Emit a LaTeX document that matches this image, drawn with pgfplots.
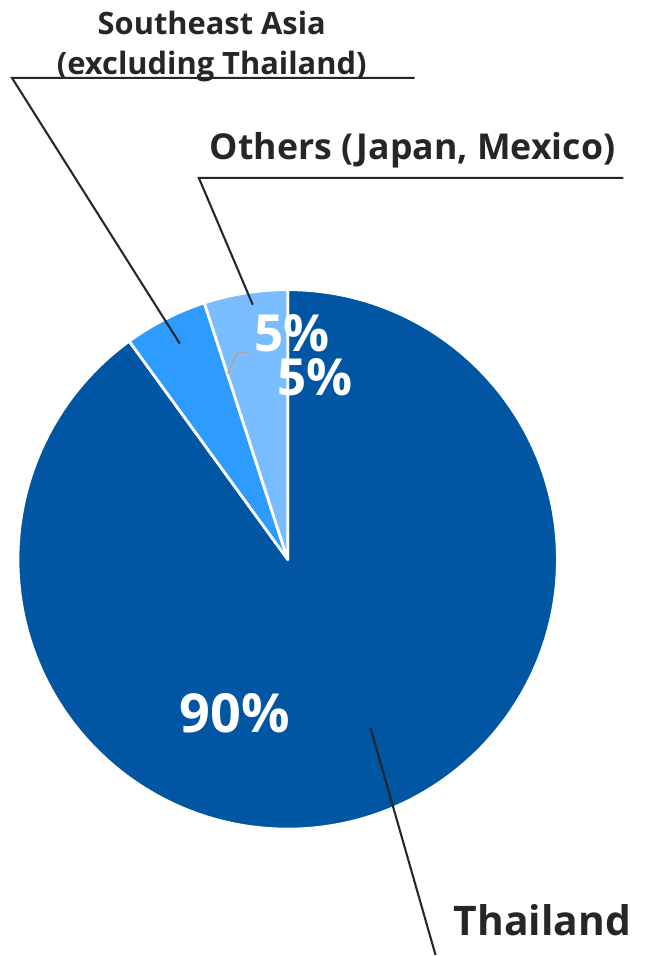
\documentclass[border=0pt]{standalone}
\usepackage{pgfplots}
\pgfplotsset{compat=1.18}
\usepackage{pgfplotstable}
\usepackage{fontspec}
\setmainfont{Open Sans}
\definecolor{cThai}{HTML}{0056A3}
\definecolor{cSEA}{HTML}{2E9BFF}
\definecolor{cOth}{HTML}{79BCFF}
\definecolor{txt}{HTML}{262626}
\definecolor{lgray}{HTML}{A6A6A6}
\pgfplotstableread{
region share
Thailand 90
SEAsia 5
Others 5
}\sharetable
\pgfplotstablegetelem{0}{share}\of\sharetable\let\sA\pgfplotsretval
\pgfplotstablegetelem{1}{share}\of\sharetable\let\sB\pgfplotsretval
\pgfplotstablegetelem{2}{share}\of\sharetable\let\sC\pgfplotsretval
\pgfmathsetmacro\aA{90-3.6*\sA}
\pgfmathsetmacro\aB{\aA-3.6*\sB}
\pgfmathsetmacro\aC{\aB-3.6*\sC}
\begin{document}
\begin{tikzpicture}
\begin{axis}[
  width=6.51in, height=9.56in, scale only axis,
  xmin=0, xmax=651, ymin=0, ymax=956,
  hide axis, clip=false]
\path (axis cs:0,0) rectangle (axis cs:651,956);
% wedges
\filldraw[fill=cThai, draw=white, line width=2pt, line join=round]
  (axis cs:288,396) -- ++(90:2.7in) arc[start angle=90, end angle=\aA, radius=2.7in] -- cycle;
\filldraw[fill=cSEA, draw=white, line width=2pt, line join=round]
  (axis cs:288,396) -- ++(\aA:2.7in) arc[start angle=\aA, end angle=\aB, radius=2.7in] -- cycle;
\filldraw[fill=cOth, draw=white, line width=2pt, line join=round]
  (axis cs:288,396) -- ++(\aB:2.7in) arc[start angle=\aB, end angle=\aC, radius=2.7in] -- cycle;
% leader lines
\draw[txt, line width=1.5pt] (axis cs:415,878) -- (axis cs:12,878) -- (axis cs:180,612);
\draw[txt, line width=1.5pt] (axis cs:624,778) -- (axis cs:199,778) -- (axis cs:253,651);
\draw[txt, line width=1.5pt] (axis cs:371,227) -- (axis cs:436,0);
\draw[lgray, line width=1.2pt] (axis cs:228,582) -- (axis cs:238,603) -- (axis cs:249,603);
% value labels
\node[white, font=\fontsize{39}{39}\selectfont\bfseries, anchor=base] at (axis cs:235,223) {90\%};
\node[white, font=\fontsize{37}{37}\selectfont\bfseries, anchor=base] at (axis cs:292,604) {5\%};
\node[white, font=\fontsize{37}{37}\selectfont\bfseries, anchor=base] at (axis cs:315,560) {5\%};
% category labels
\node[txt, font=\fontsize{22.3}{22.3}\selectfont\bfseries, anchor=base] at (axis cs:212,921) {Southeast Asia};
\node[txt, font=\fontsize{22.3}{22.3}\selectfont\bfseries, anchor=base] at (axis cs:212,881) {(excluding Thailand)};
\node[txt, font=\fontsize{25.8}{25.8}\selectfont\bfseries, anchor=base] at (axis cs:413,796) {Others (Japan, Mexico)};
\node[txt, font=\fontsize{29.5}{29.5}\selectfont\bfseries, anchor=base] at (axis cs:543,19) {Thailand};
\end{axis}
\end{tikzpicture}
\end{document}
